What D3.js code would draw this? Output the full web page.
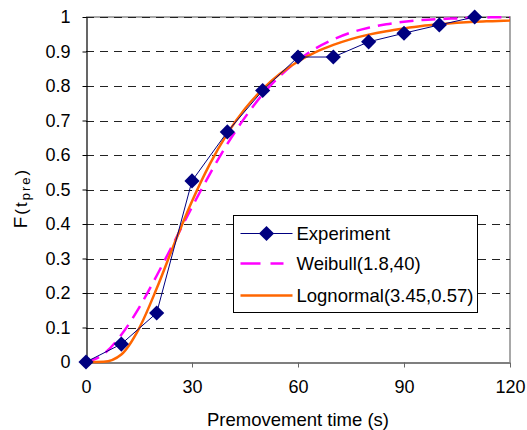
<!DOCTYPE html>
<html>
<head>
<meta charset="utf-8">
<script src="https://cdn.jsdelivr.net/npm/d3@7"></script>
<style>
  body { margin: 0; background: #fff; }
  svg text { font-family: "Liberation Sans", Arial, sans-serif; fill: #000; }
</style>
</head>
<body>
<div id="chart"></div>
<script>
// experiment points
const expTime = [0, 10, 20, 30, 40, 50, 60, 70, 80, 90, 100, 110];
const expF = [0, 0.052, 0.142, 0.525, 0.667, 0.787, 0.884, 0.884, 0.928, 0.953, 0.977, 1.0];

// fitted curves, read at 5 s steps
const curveTime = [0, 5, 10, 15, 20, 25, 30, 35, 40, 45, 50, 55, 60, 65, 70, 75, 80, 85, 90, 95, 100, 105, 110, 115, 120];
const weibullF = [0, 0.023, 0.079, 0.157, 0.25, 0.349, 0.449, 0.544, 0.632, 0.709, 0.776, 0.83, 0.874, 0.909, 0.935, 0.955, 0.969, 0.979, 0.986, 0.991, 0.994, 0.996, 0.998, 0.999, 0.999];
const lognormF = [0, 0.001, 0.022, 0.097, 0.213, 0.343, 0.466, 0.573, 0.662, 0.734, 0.791, 0.836, 0.871, 0.898, 0.919, 0.936, 0.949, 0.959, 0.967, 0.974, 0.979, 0.983, 0.986, 0.988, 0.99];

const xTicks = [0, 30, 60, 90, 120];
const yTicks = [0, 0.1, 0.2, 0.3, 0.4, 0.5, 0.6, 0.7, 0.8, 0.9, 1];
const legendNames = ["Experiment", "Weibull(1.8,40)", "Lognormal(3.45,0.57)"];

const width = 527, height = 430;
const margin = { left: 86, right: 17, top: 17, bottom: 68 };
const fontSize = 18.5;

const svg = d3.select("#chart").append("svg")
  .attr("width", width)
  .attr("height", height);

const x = d3.scaleLinear().domain([0, 120]).range([margin.left, width - margin.right]);
const y = d3.scaleLinear().domain([0, 1]).range([height - margin.bottom, margin.top]);

// frame (top and right grey)
svg.append("path")
  .attr("d", `M${x(0)},${y(1)}H${x(120)}V${y(0)}`)
  .attr("fill", "none")
  .attr("stroke", "#8c8c8c")
  .attr("stroke-width", 1.5);

// gridlines
svg.append("g")
  .selectAll("line")
  .data(yTicks.filter(d => d > 0))
  .join("line")
  .attr("x1", x(0)).attr("x2", x(120))
  .attr("y1", d => Math.round(y(d)) + 0.5)
  .attr("y2", d => Math.round(y(d)) + 0.5)
  .attr("stroke", "#222")
  .attr("stroke-dasharray", "8,6");

// axes
const xAxis = svg.append("g")
  .attr("transform", `translate(0,${Math.round(y(0)) + 0.5})`)
  .call(d3.axisBottom(x).tickValues(xTicks).tickSize(5).tickSizeOuter(0).tickPadding(13));
const yAxis = svg.append("g")
  .attr("transform", `translate(${Math.round(x(0)) + 0.5},0)`)
  .call(d3.axisLeft(y).tickValues(yTicks).tickFormat(d3.format("~g")).tickSize(4).tickSizeOuter(0).tickPadding(12));

[xAxis, yAxis].forEach(a => {
  a.select(".domain").attr("stroke", "#000").attr("stroke-width", 1.2);
  a.selectAll(".tick line").attr("stroke", "#000");
  a.selectAll("text").attr("font-size", 18).attr("font-family", "Liberation Sans, Arial, sans-serif");
});
xAxis.selectAll(".tick line").attr("stroke", "#666");

// axis titles
svg.append("text")
  .attr("x", (x(0) + x(120)) / 2)
  .attr("y", 426)
  .attr("text-anchor", "middle")
  .attr("font-size", fontSize)
  .text("Premovement time (s)");

const yTitle = svg.append("text")
  .attr("transform", "translate(27,199) rotate(-90)")
  .attr("text-anchor", "middle")
  .attr("font-size", 19);
yTitle.append("tspan").attr("letter-spacing", 2).text("F");
yTitle.append("tspan").attr("font-size", 17).attr("letter-spacing", 2).text("(t");
yTitle.append("tspan").attr("font-size", 13).attr("letter-spacing", 2).attr("dy", 3).text("pre");
yTitle.append("tspan").attr("font-size", 17).attr("dy", -3).text(")");

// curves
const curveLine = vals => d3.line()
  .x((d, i) => x(curveTime[i]))
  .y(d => y(d))
  .curve(d3.curveMonotoneX)(vals);

svg.append("path")
  .attr("d", curveLine(weibullF))
  .attr("fill", "none")
  .attr("stroke", "#ff00ff")
  .attr("stroke-width", 2.5)
  .attr("stroke-dasharray", "14,8");

svg.append("path")
  .attr("d", curveLine(lognormF))
  .attr("fill", "none")
  .attr("stroke", "#ff6600")
  .attr("stroke-width", 2.5);

// experiment
svg.append("path")
  .attr("d", d3.line().x((d, i) => x(expTime[i])).y(d => y(d))(expF))
  .attr("fill", "none")
  .attr("stroke", "#000080")
  .attr("stroke-width", 1);

const diamond = d3.symbol().type(d3.symbolSquare).size(115);
svg.append("g")
  .selectAll("path")
  .data(expF)
  .join("path")
  .attr("d", diamond)
  .attr("transform", (d, i) => `translate(${x(expTime[i])},${y(d)}) rotate(45)`)
  .attr("fill", "#000080");

// legend
const lg = svg.append("g").attr("transform", "translate(233.5,215.5)");
lg.append("rect")
  .attr("width", 244).attr("height", 97)
  .attr("fill", "#fff").attr("stroke", "#000");

const rows = [18, 48, 80];
lg.append("line").attr("x1", 7).attr("x2", 59).attr("y1", rows[0]).attr("y2", rows[0])
  .attr("stroke", "#000080");
lg.append("path").attr("d", diamond).attr("transform", `translate(33,${rows[0]}) rotate(45)`)
  .attr("fill", "#000080");
lg.append("line").attr("x1", 7).attr("x2", 50).attr("y1", rows[1]).attr("y2", rows[1])
  .attr("stroke", "#ff00ff").attr("stroke-width", 2.5).attr("stroke-dasharray", "20,10");
lg.append("line").attr("x1", 7).attr("x2", 59).attr("y1", rows[2]).attr("y2", rows[2])
  .attr("stroke", "#ff6600").attr("stroke-width", 2.5);

lg.selectAll("text.leg")
  .data(legendNames)
  .join("text")
  .attr("class", "leg")
  .attr("x", 63)
  .attr("y", (d, i) => rows[i] + 6.5)
  .attr("font-size", fontSize)
  .text(d => d);
</script>
</body>
</html>
